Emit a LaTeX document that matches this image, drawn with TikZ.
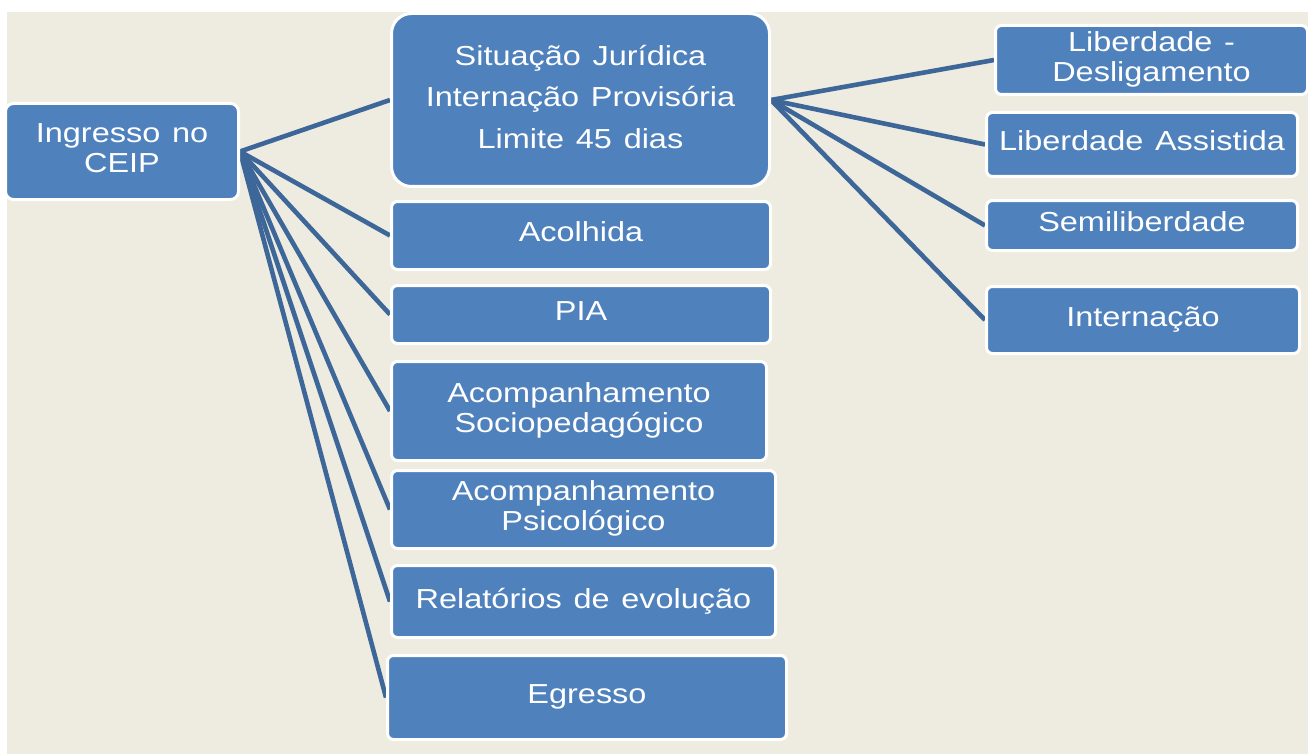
\documentclass[tikz,border=0pt]{standalone}
\usepackage{fontspec}
\newfontfamily\boxfont[FakeStretch=1.18,WordSpace=1.3]{Liberation Sans}
\pgfdeclarelayer{bg}
\pgfdeclarelayer{links}
\pgfsetlayers{bg,links,main}
\definecolor{bgbeige}{HTML}{EEEBE0}
\definecolor{boxblue}{HTML}{4F81BD}
\definecolor{linkblue}{HTML}{3D6699}
\tikzset{
  card/.style={draw=white, line width=3pt, fill=boxblue, text=white,
    rounded corners=6pt, align=center, inner sep=2pt, text depth=7pt,
    font=\boxfont\fontsize{27.5}{30}\selectfont},
  link/.style={draw=linkblue, line width=4.6pt},
}
\begin{document}
\begin{tikzpicture}[x=1pt,y=-1pt]
\useasboundingbox (0,0) rectangle (1308,754);
\begin{pgfonlayer}{bg}
  \fill[white] (0,0) rectangle (1308,754);
  \fill[bgbeige] (7,12) rectangle (1308,754);
\end{pgfonlayer}

\node[card, minimum width=233pt, minimum height=96pt, rounded corners=8pt] (ing) at (122,151.5) {Ingresso no\\CEIP};

\node[card, minimum width=378pt, minimum height=173pt, rounded corners=20pt,
  font=\boxfont\fontsize{27.5}{41.5}\selectfont] (sit) at (580.5,100)
  {Situação Jurídica\\Internação Provisória\\Limite 45 dias};
\node[card, minimum width=379pt, minimum height=68pt] (aco) at (581,235.5) {Acolhida};
\node[card, minimum width=379pt, minimum height=58pt] (pia) at (581,314.5) {PIA};
\node[card, minimum width=375pt, minimum height=99pt] (soc) at (579,411) {Acompanhamento\\Sociopedagógico};
\node[card, minimum width=384pt, minimum height=78pt] (psi) at (583.5,509.5) {Acompanhamento\\Psicológico};
\node[card, minimum width=384pt, minimum height=72pt] (rel) at (583.5,601.5) {Relatórios de evolução};
\node[card, minimum width=399pt, minimum height=84pt] (egr) at (587,697.5) {Egresso};

\node[card, minimum width=312pt, minimum height=69pt] (lde) at (1151.5,60) {Liberdade -\\Desligamento};
\node[card, minimum width=311pt, minimum height=64pt] (las) at (1142,144.5) {Liberdade Assistida};
\node[card, minimum width=311pt, minimum height=50pt] (sem) at (1142,225.5) {Semiliberdade};
\node[card, minimum width=313pt, minimum height=67pt] (int) at (1143,320) {Internação};

\begin{pgfonlayer}{links}
  \foreach \t in {sit,aco,pia,soc,psi,rel,egr} \draw[link] (ing.east) -- (\t.west);
  \foreach \t in {lde,las,sem,int} \draw[link] (sit.east) -- (\t.west);
\end{pgfonlayer}
\end{tikzpicture}
\end{document}
